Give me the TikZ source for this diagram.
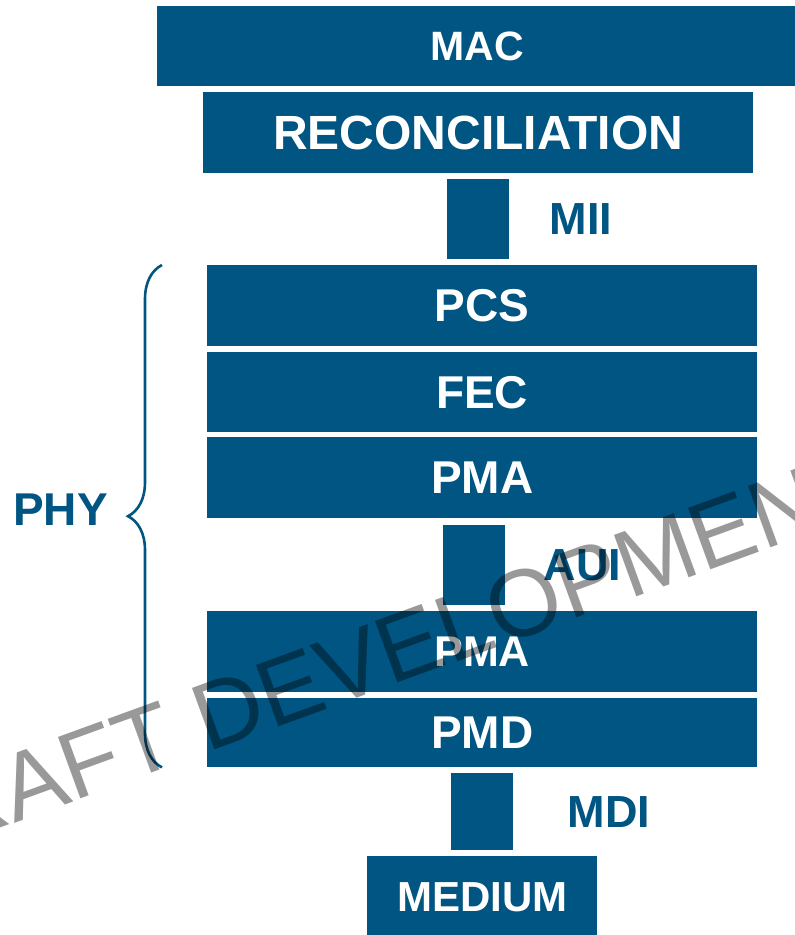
\documentclass[tikz,border=0pt]{standalone}
\usepackage{fontspec}
\setmainfont{Liberation Sans}
\usetikzlibrary{positioning,decorations.pathreplacing}
\definecolor{layerblue}{RGB}{0,85,130}

\begin{document}
\begin{tikzpicture}[x=1pt,y=-1pt,
    layer/.style={fill=layerblue,text=white,inner sep=0pt,anchor=north west,
      minimum width=550pt,font=\fontsize{46}{46}\selectfont\bfseries},
    link/.style={fill=layerblue,inner sep=0pt,anchor=north west,minimum width=62pt},
    iface/.style={text=layerblue,inner sep=0pt,font=\fontsize{45}{45}\selectfont\bfseries},
    watermark/.style={text=black,text opacity=0.4,inner sep=0pt,
      font=\fontsize{95}{95}\selectfont}]
  \useasboundingbox (0,0) rectangle (795,935);
  \clip (0,0) rectangle (795,935);

  % upper layers
  \node[layer,minimum width=640pt,minimum height=80pt,font=\fontsize{41}{41}\selectfont\bfseries] (mac) at (157,6) {MAC};
  \node[layer,minimum height=81pt,font=\fontsize{48}{48}\selectfont\bfseries] (recon) at (203,92) {RECONCILIATION};
  \node[link,minimum height=80pt] (miilink) at (447,179) {};
  \node[iface,anchor=west,right=40pt of miilink] (mii) {MII};

  % phy sublayers
  \node[layer,minimum height=81pt] (pcs) at (207,265) {PCS};
  \node[layer,minimum height=80pt] (fec) at (207,352) {FEC};
  \node[layer,minimum height=81pt] (pmaup) at (207,437) {PMA};
  \node[link,minimum height=80pt] (auilink) at (443,525) {};
  \node[iface,right=38pt of auilink] (aui) {AUI};
  \node[layer,minimum height=81pt,font=\fontsize{43}{43}\selectfont\bfseries] (pmalow) at (207,611) {PMA};
  \node[layer,minimum height=69pt] (pmd) at (207,698) {PMD};
  \node[link,minimum height=77pt] (mdilink) at (451,773) {};
  \node[iface,right=54pt of mdilink] (mdi) {MDI};

  % medium
  \node[layer,minimum width=230pt,minimum height=82pt,font=\fontsize{42}{42}\selectfont\bfseries] (medium) at (367,856) {MEDIUM};

  % phy brace
  \draw[layerblue,line width=2.6pt,decorate,decoration={brace,amplitude=34pt}]
    ([xshift=-45pt]pmd.south west) -- ([xshift=-45pt]pcs.north west);
  \node[iface,anchor=east,font=\fontsize{46}{46}\selectfont\bfseries] (phy) at (108,510) {PHY};

  \node[watermark,rotate=20,anchor=base west] (draft) at (-115,870) {DRAFT DEVELOPMENT};
\end{tikzpicture}
\end{document}
